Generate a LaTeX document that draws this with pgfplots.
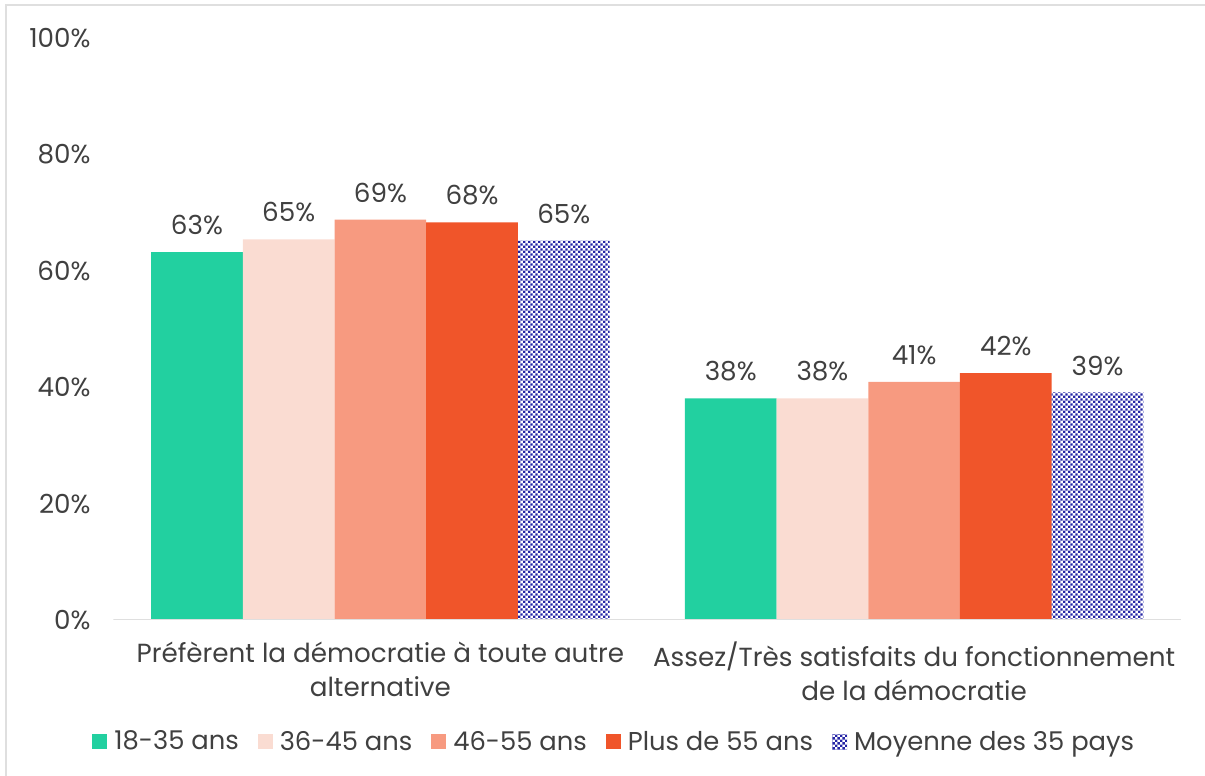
\documentclass[border=0pt]{standalone}
\usepackage{fontspec}
\setmainfont{Poppins}
\usepackage{pgfplots}
\pgfplotsset{compat=1.18}
\usetikzlibrary{patterns.meta}
\definecolor{cA}{RGB}{34,208,160}
\definecolor{cB}{RGB}{250,220,210}
\definecolor{cC}{RGB}{247,154,128}
\definecolor{cD}{RGB}{240,85,42}
\definecolor{cE}{RGB}{36,36,165}
\definecolor{txt}{RGB}{64,64,64}
\tikzdeclarepattern{name=checker, type=uncolored,
  bounding box={(0,0) and (2.4pt,2.4pt)},
  tile size={(2.4pt,2.4pt)},
  code={\fill (0,0) rectangle (1.2pt,1.2pt); \fill (1.2pt,1.2pt) rectangle (2.4pt,2.4pt);}}
\begin{document}
\begin{tikzpicture}
\path[use as bounding box] (0pt,0pt) rectangle (602.5pt,388pt);
\draw[gray!25, line width=1pt] (3pt,0pt) -- (3pt,385.5pt) -- (602.5pt,385.5pt);
\coordinate (O) at (56.75pt,78pt);
\begin{axis}[
  at={(O)}, anchor=south west,
  scale only axis, width=533.75pt, height=291pt,
  ymin=0, ymax=100, xmin=-0.5, xmax=1.5,
  ybar=0pt, bar width=45.85pt,
  axis line style={draw=none},
  ytick={0,20,...,100}, ytick style={draw=none},
  xtick={0,1}, xtick style={draw=none},
  xticklabels={{Préfèrent la démocratie à toute autre\\alternative},{Assez/Très satisfaits du fonctionnement\\de la démocratie}},
  xticklabel style={align=center, text=txt, font=\fontsize{13.1}{17}\selectfont, yshift=-3pt},
  yticklabel={\pgfmathprintnumber{\tick}\%},
  yticklabel style={text=txt, font=\fontsize{13.1}{16}\selectfont, xshift=-8pt},
  /pgf/number format/assume math mode=true,
  nodes near coords={\pgfmathprintnumber[fixed,precision=0]{\pgfplotspointmeta}\%},
  every node near coord/.append style={text=txt, font=\fontsize{13.1}{16}\selectfont, yshift=5pt},
  legend columns=5,
  legend style={draw=none, at={(0.470,-0.2096)}, anchor=center, font=\fontsize{12.9}{16}\selectfont, text=txt,
    /tikz/every odd column/.append style={column sep=1.5pt},
    /tikz/every even column/.append style={column sep=7.5pt}},
  legend image code/.code={\fill[#1, draw=none] (0pt,-3.75pt) rectangle (7.5pt,3.75pt);},
]
\addplot[fill=cA, draw=none] coordinates {(0,63.2) (1,38.1)};
\addplot[fill=cB, draw=none] coordinates {(0,65.4) (1,38.1)};
\addplot[fill=cC, draw=none] coordinates {(0,68.8) (1,40.9)};
\addplot[fill=cD, draw=none] coordinates {(0,68.3) (1,42.4)};
\addplot[draw=none, pattern={checker}, pattern color=cE] coordinates {(0,65.2) (1,39.1)};
\legend{18-35 ans, 36-45 ans, 46-55 ans, Plus de 55 ans, Moyenne des 35 pays}
\draw[gray!25, line width=1pt] (rel axis cs:0,0) -- (rel axis cs:1,0);
\end{axis}
\end{tikzpicture}
\end{document}
